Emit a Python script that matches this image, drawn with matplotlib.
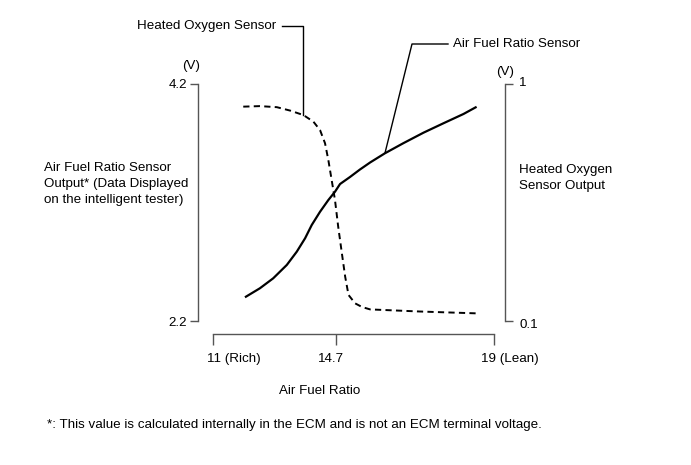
import matplotlib
matplotlib.use("Agg")
import matplotlib.pyplot as plt
import numpy as np
from matplotlib.transforms import ScaledTranslation
from matplotlib.lines import Line2D

plt.rcParams['font.family'] = ['Liberation Sans', 'DejaVu Sans']
FS = 9.6
plt.rcParams['font.size'] = FS

# ---- data ----
afr_ticks = [11, 14.7, 19]
afr_tick_labels = ["11 (Rich)", "14.7", "19 (Lean)"]
left_ticks = [2.2, 4.2]
left_tick_labels = ["2.2", "4.2"]
right_ticks = [0.1, 1]
right_tick_labels = ["0.1", "1"]

# Air fuel ratio sensor (left axis, V)
afs_x = [11.99, 12.41, 12.81, 13.22, 13.52, 13.77, 13.97, 14.22, 14.47, 14.67, 14.81,
         15.08, 15.35, 15.63, 16.03, 16.53, 17.08, 17.62, 18.17, 18.50]
afs_y = [2.405, 2.476, 2.560, 2.673, 2.785, 2.898, 3.010, 3.122, 3.221, 3.291, 3.356,
         3.415, 3.478, 3.538, 3.615, 3.700, 3.789, 3.868, 3.947, 4.003]

# Heated oxygen sensor (right axis, V)
hos_x = [11.91, 12.41, 12.92, 13.32, 13.72, 14.02, 14.22, 14.37, 14.47, 14.57, 14.67,
         14.76, 14.86, 14.95, 15.04, 15.22, 15.41, 15.63, 16.99, 18.53]
hos_y = [0.914, 0.916, 0.912, 0.899, 0.882, 0.857, 0.825, 0.775, 0.711, 0.635, 0.559,
         0.458, 0.357, 0.268, 0.199, 0.167, 0.153, 0.144, 0.136, 0.129]

# piecewise-linear x scale (14.7 sits left of its linear position in the original)
p_mid = 123 / 281.0
def fwd(x):
    x = np.asarray(x, dtype=float)
    return np.where(x <= 14.7, (x - 11) / 3.7 * p_mid, p_mid + (x - 14.7) / 4.3 * (1 - p_mid))
def inv(p):
    p = np.asarray(p, dtype=float)
    return np.where(p <= p_mid, 11 + p / p_mid * 3.7, 14.7 + (p - p_mid) / (1 - p_mid) * 4.3)

W, H = 691, 465
PT = 0.72  # points per pixel at 100 dpi
fig = plt.figure(figsize=(W / 100, H / 100), dpi=100)
ax = fig.add_axes([213 / W, 1 - 321 / H, 281 / W, 237 / H])
ax.set_xscale('function', functions=(fwd, inv))
ax.set_xlim(11, 19)
ax.set_ylim(2.2, 4.2)
ax2 = ax.twinx()
ax2.set_ylim(0.1, 1)

spc = '#555555'
for a in (ax, ax2):
    a.patch.set_visible(False)
    for s in a.spines.values():
        s.set_visible(False)
        s.set_color(spc)
        s.set_linewidth(1.0)

ax.spines['left'].set_visible(True)
ax.spines['left'].set_position(('outward', 15 * PT))
ax.spines['bottom'].set_visible(True)
ax.spines['bottom'].set_position(('outward', 13 * PT))
ax2.spines['right'].set_visible(True)
ax2.spines['right'].set_position(('outward', 11 * PT))

ax.set_yticks(left_ticks)
ax.set_yticklabels(left_tick_labels)
ax.tick_params(axis='y', direction='out', length=8 * PT, width=1, color=spc, pad=3 * PT, labelsize=FS)
ax2.set_yticks(right_ticks)
ax2.set_yticklabels(right_tick_labels)
ax2.tick_params(axis='y', direction='out', length=8 * PT, width=1, color=spc, pad=6 * PT, labelsize=FS)
rl = ax2.get_yticklabels()
rl[1].set_transform(rl[1].get_transform() + ScaledTranslation(0, 2 / 100, fig.dpi_scale_trans))
rl[0].set_transform(rl[0].get_transform() + ScaledTranslation(0, -3 / 100, fig.dpi_scale_trans))

ax.set_xticks(afr_ticks)
ax.set_xticklabels(afr_tick_labels)
ax.tick_params(axis='x', direction='out', length=11 * PT, width=1, color=spc, pad=8 * PT, labelsize=FS)
ax.xaxis.set_minor_locator(matplotlib.ticker.NullLocator())
offs = [21, -5, 16]
for lab, o in zip(ax.get_xticklabels(), offs):
    lab.set_transform(lab.get_transform() + ScaledTranslation(o / 100, 0, fig.dpi_scale_trans))

ax.plot(afs_x, afs_y, color='black', lw=1.6, solid_joinstyle='round')
ax2.plot(hos_x, hos_y, color='black', lw=1.4, ls=(0, (3.2, 2.2)), dash_joinstyle='round')

def px(x, y):
    return (x / W, 1 - y / H)

# (V) labels
fig.text(*px(191, 66), "(V)", ha='center', va='center', fontsize=FS)
fig.text(*px(505, 72), "(V)", ha='center', va='center', fontsize=FS)

# leader lines and labels
hx, hy = zip(px(282, 26), px(302.5, 26), px(302.5, 115))
fig.add_artist(Line2D(hx, hy, color='black', lw=1.0))
fig.text(*px(137, 26), "Heated Oxygen Sensor", ha='left', va='center', fontsize=FS)

ax_, ay_ = zip(px(448, 44), px(412, 44), px(385, 153))
fig.add_artist(Line2D(ax_, ay_, color='black', lw=1.0))
fig.text(*px(453, 44), "Air Fuel Ratio Sensor", ha='left', va='center', fontsize=FS)

fig.text(*px(44, 162), "Air Fuel Ratio Sensor\nOutput* (Data Displayed\non the intelligent tester)",
         ha='left', va='top', fontsize=FS, linespacing=1.42)
fig.text(*px(519, 164), "Heated Oxygen\nSensor Output", ha='left', va='top', fontsize=FS, linespacing=1.4)
fig.text(*px(320, 391), "Air Fuel Ratio", ha='center', va='center', fontsize=FS)
fig.text(*px(47, 425), "*: This value is calculated internally in the ECM and is not an ECM terminal voltage.",
         ha='left', va='center', fontsize=FS)

fig.savefig("out.png", dpi=100)
